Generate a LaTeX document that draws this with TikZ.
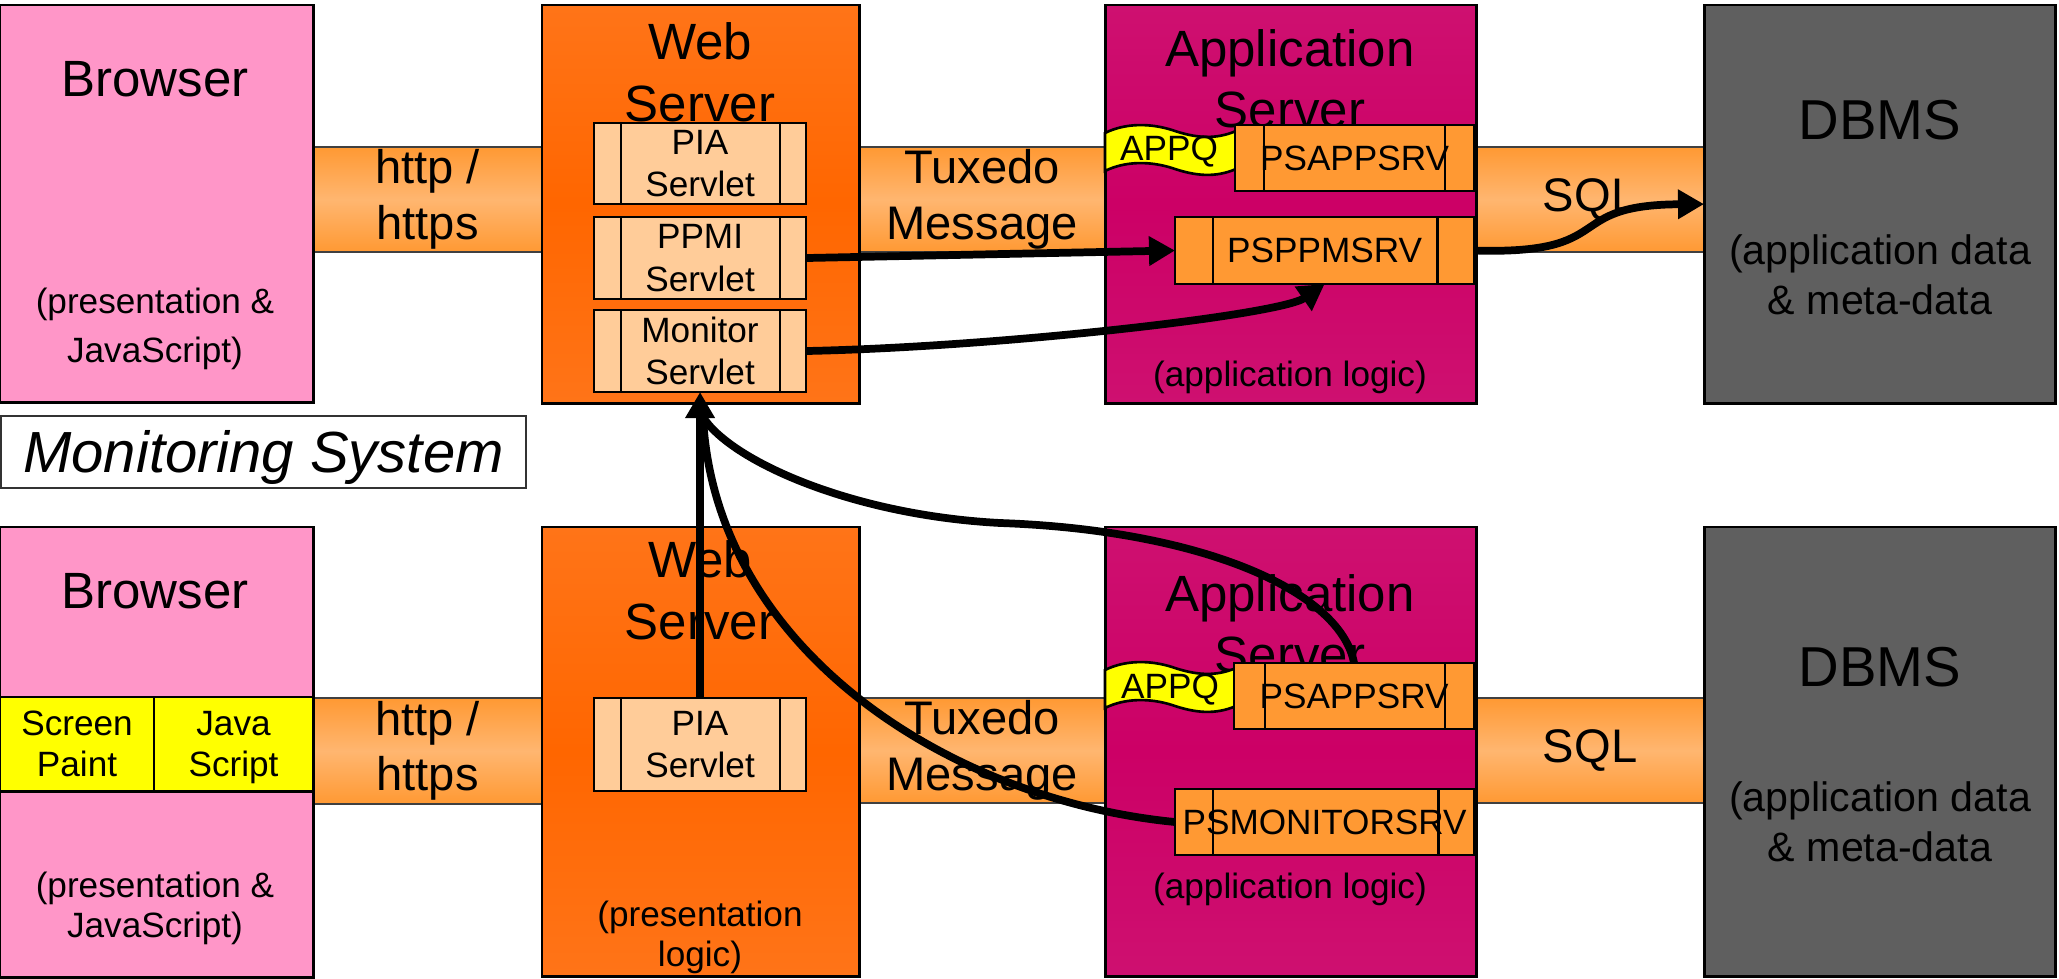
\documentclass[tikz,border=0pt]{standalone}
\usepackage{fontspec}
\setmainfont{Liberation Sans}
\usetikzlibrary{arrows.meta}

\definecolor{browserpink}{HTML}{FF96C8}
\definecolor{webtop}{HTML}{FF7418}
\definecolor{webmid}{HTML}{FF6600}
\definecolor{apptop}{HTML}{CE1070}
\definecolor{appmid}{HTML}{CC0066}
\definecolor{dbgray}{HTML}{5F5F5F}
\definecolor{banddark}{HTML}{FF9933}
\definecolor{bandlight}{HTML}{FFB670}
\definecolor{servletfill}{HTML}{FFCC99}
\definecolor{procfill}{HTML}{FF9933}
\definecolor{queueyellow}{HTML}{FFFF00}

\tikzset{
  tier/.style={draw=black, line width=0.85pt, inner sep=0pt, outer sep=0pt, anchor=north west},
  band/.style={draw=black!75, line width=0.5pt, inner sep=0pt, outer sep=0pt, anchor=north west,
    top color=banddark, bottom color=banddark, middle color=bandlight,
    align=center, font=\fontsize{13.4}{15.8}\selectfont},
  servlet/.style={draw=black, line width=0.75pt, fill=servletfill, inner sep=0pt, outer sep=0pt,
    anchor=north west, align=center, font=\fontsize{10}{12}\selectfont},
  srvproc/.style={servlet, fill=procfill},
  queue/.style={draw=black, line width=0.75pt, fill=queueyellow},
  title/.style={align=center, font=\fontsize{14.5}{17.6}\selectfont},
  note/.style={align=center, font=\fontsize{10}{11.6}\selectfont},
  flow/.style={line width=2.2pt, -{Triangle[length=7.4pt,width=8pt]}},
  feed/.style={line width=2.2pt},
}

\begin{document}
\begin{tikzpicture}[x=0.01cm, y=-0.01cm]
\useasboundingbox (0,0) rectangle (2059,979);

% Fila superior: bandas
\node[band, minimum width=2.29cm, minimum height=1.05cm] (http1) at (313,147) {http /\\https};
\node[band, minimum width=2.46cm, minimum height=1.05cm] (tux1) at (859,147) {Tuxedo\\Message};
\node[band, minimum width=2.28cm, minimum height=1.05cm] (sql1) at (1476,147) {SQL};

% Fila superior: capas
\node[tier, fill=browserpink, minimum width=3.13cm, minimum height=3.97cm] (brw1) at (0,5) {};
\node[tier, top color=webtop, bottom color=webtop, middle color=webmid,
  minimum width=3.17cm, minimum height=3.98cm] (web1) at (542,5) {};
\node[tier, top color=apptop, bottom color=apptop, middle color=appmid,
  minimum width=3.71cm, minimum height=3.98cm] (app1) at (1105,5) {};
\node[tier, fill=dbgray, minimum width=3.51cm, minimum height=3.98cm] (db1) at (1704,5) {};

\node[title] (brw1t) at (155,79) {Browser};
\node[note, font=\fontsize{10}{13.7}\selectfont] (brw1n) at (155,329) {(presentation \&\\JavaScript)};
\node[title] (web1t) at (700,72) {Web\\Server};
\node[title, font=\fontsize{14.5}{17.2}\selectfont] (app1t) at (1290,79) {Application\\Server};
\node[note] (app1n) at (1290,377) {(application logic)};
\node[font=\fontsize{16}{19}\selectfont] (db1t) at (1880,120) {DBMS};
\node[align=center, font=\fontsize{11.7}{14.2}\selectfont] (db1n) at (1880,275) {(application data\\\& meta-data};

% Servlets
\node[servlet, minimum width=2.12cm, minimum height=0.81cm] (pia1) at (594,123) {PIA\\Servlet};
\node[servlet, minimum width=2.12cm, minimum height=0.82cm] (ppmi) at (594,217) {PPMI\\Servlet};
\node[servlet, minimum width=2.12cm, minimum height=0.82cm] (mon) at (594,310) {Monitor\\Servlet};

% APPQ
\begin{scope}[shift={(0,126)}]
  \draw[queue] (1105,7) .. controls (1125,-3) and (1150,-3) .. (1172,4)
    .. controls (1195,12) and (1215,14) .. (1236,5) -- (1236,43)
    .. controls (1215,52) and (1195,50) .. (1172,42)
    .. controls (1150,35) and (1125,35) .. (1105,45) -- cycle;
  \node[note] (appq1) at (1169,26) {APPQ};
\end{scope}

\node[srvproc, minimum width=2.39cm, minimum height=0.66cm] (psapp1) at (1235,125) {PSAPPSRV};
\node[srvproc, minimum width=2.99cm, minimum height=0.67cm] (psppm) at (1175,217) {PSPPMSRV};

% Monitoring System
\node[draw=black!80, line width=0.5pt, anchor=north west, inner sep=0pt, text depth=0pt,
  minimum width=5.25cm, minimum height=0.72cm,
  font=\fontsize{16.5}{19}\selectfont\itshape] (monsys) at (0,415) {Monitoring System};

% Fila inferior: bandas
\node[band, minimum width=2.29cm, minimum height=1.06cm] (http2) at (313,698) {http /\\https};
\node[band, minimum width=2.46cm, minimum height=1.05cm] (tux2) at (859,698) {Tuxedo\\Message};
\node[band, minimum width=2.28cm, minimum height=1.05cm] (sql2) at (1476,698) {SQL};

% Fila inferior: capas
\node[tier, fill=browserpink, minimum width=3.13cm, minimum height=4.50cm] (brw2) at (0,527) {};
\node[tier, top color=webtop, bottom color=webtop, middle color=webmid,
  minimum width=3.17cm, minimum height=4.49cm] (web2) at (542,527) {};
\node[tier, top color=apptop, bottom color=apptop, middle color=appmid,
  minimum width=3.71cm, minimum height=4.49cm] (app2) at (1105,527) {};
\node[tier, fill=dbgray, minimum width=3.51cm, minimum height=4.49cm] (db2) at (1704,527) {};

\node[title] (brw2t) at (155,591) {Browser};
\node[tier, fill=queueyellow, minimum width=1.54cm, minimum height=0.94cm, align=center,
  text depth=0pt, font=\fontsize{10}{11.7}\selectfont] (scr) at (0,697) {Screen\\Paint};
\node[tier, fill=queueyellow, minimum width=1.59cm, minimum height=0.94cm, align=center,
  text depth=0pt, font=\fontsize{10}{11.7}\selectfont] (jsc) at (154,697) {Java\\Script};
\node[note, font=\fontsize{10}{11.4}\selectfont] (brw2n) at (155,908) {(presentation \&\\JavaScript)};
\node[title] (web2t) at (700,590) {Web\\Server};
\node[servlet, minimum width=2.12cm, minimum height=0.93cm] (pia2) at (594,698) {PIA\\Servlet};
\node[note, font=\fontsize{10}{11.4}\selectfont] (web2n) at (700,937) {(presentation\\logic)};
\node[title, font=\fontsize{14.5}{17.2}\selectfont] (app2t) at (1290,624) {Application\\Server};

\begin{scope}[shift={(0,663)}]
  \draw[queue] (1105,7) .. controls (1125,-3) and (1150,-3) .. (1172,4)
    .. controls (1195,12) and (1215,14) .. (1236,5) -- (1236,43)
    .. controls (1215,52) and (1195,50) .. (1172,42)
    .. controls (1150,35) and (1125,35) .. (1105,45) -- cycle;
  \node[note] (appq2) at (1170,27) {APPQ};
\end{scope}

\node[srvproc, minimum width=2.40cm, minimum height=0.66cm] (psapp2) at (1234,663) {PSAPPSRV};
\node[srvproc, minimum width=2.99cm, minimum height=0.66cm] (psmon) at (1175,789) {PSMONITORSRV};
\node[note] (app2n) at (1290,889) {(application logic)};
\node[font=\fontsize{16}{19}\selectfont] (db2t) at (1880,667) {DBMS};
\node[align=center, font=\fontsize{11.7}{14.2}\selectfont] (db2n) at (1880,822) {(application data\\\& meta-data};

% Separadores de los servlets
\foreach \n/\a/\b in {pia1/27/26, ppmi/27/26, mon/27/26, pia2/27/26,
  psapp1/29/29, psppm/38/37, psapp2/31/29, psmon/38/36}
  \draw[line width=0.75pt] ([xshift=\a*0.01cm]\n.north west) -- ([xshift=\a*0.01cm]\n.south west)
    ([xshift=-\b*0.01cm]\n.north east) -- ([xshift=-\b*0.01cm]\n.south east);

% Flechas
\draw[flow] (ppmi.east) -- (psppm.west);
\draw[flow] (mon.east) .. controls (1000,347) and (1280,315) .. (psppm.south);
\draw[flow] (psppm.east) .. controls (1620,255) and (1560,205) .. (db1.west);

\coordinate (tipfoot) at (703,417);
\draw[flow] (pia2.north) -- (mon.south);
\draw[feed] (psmon.west) .. controls (950,800) and (715,650) .. (tipfoot);
\draw[feed] (psapp2.north) .. controls (1340,590) and (1200,530) .. (1000,523)
  .. controls (850,515) and (730,460) .. (tipfoot);

\end{tikzpicture}
\end{document}
